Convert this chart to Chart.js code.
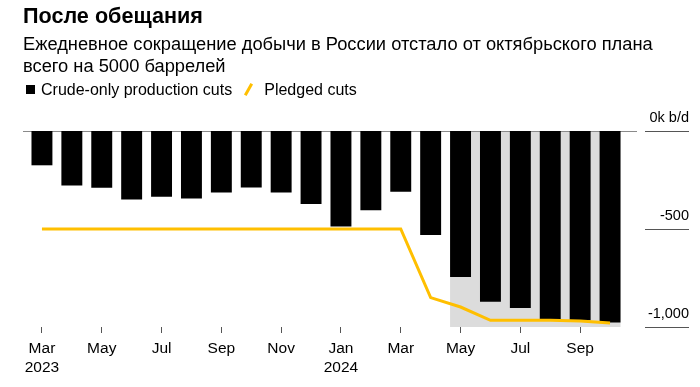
<!DOCTYPE html>
<html>
<head>
<meta charset="utf-8">
<script src="https://cdn.jsdelivr.net/npm/chart.js@4"></script>
<style>
  body { margin: 0; background: #fff; font-family: "Liberation Sans", Arial, sans-serif; color: #000; }
  #wrap { position: relative; width: 700px; height: 387px; overflow: hidden; }
  #chart { position: absolute; left: 0; top: 0; }
  .title { position: absolute; left: 23px; top: 3px; font-size: 21.6px; font-weight: bold; }
  .subtitle { position: absolute; left: 23px; top: 33px; font-size: 18.3px; line-height: 22px; }
  .legend { position: absolute; left: 26px; top: 80px; font-size: 16px; line-height: 18px; white-space: nowrap; }
  .legend span { display: inline-block; vertical-align: middle; }
  .sw-bar { width: 9px; height: 9px; background: #000; margin-right: 6px; }
  .sw-line { width: 3px; height: 13px; background: #ffbf00; transform: rotate(30deg); margin: 0 14px 0 15px; }
</style>
</head>
<body>
<div id="wrap">
  <canvas id="chart" width="700" height="387"></canvas>
  <div class="title">После обещания</div>
  <div class="subtitle">Ежедневное сокращение добычи в России отстало от октябрьского плана<br>всего на 5000 баррелей</div>
  <div class="legend"><span class="sw-bar"></span><span>Crude-only production cuts</span><span class="sw-line"></span><span>Pledged cuts</span></div>
</div>
<script>
const months = [
  "Mar 2023", "Apr 2023", "May 2023", "Jun 2023", "Jul 2023", "Aug 2023", "Sep 2023", "Oct 2023",
  "Nov 2023", "Dec 2023", "Jan 2024", "Feb 2024", "Mar 2024", "Apr 2024", "May 2024", "Jun 2024",
  "Jul 2024", "Aug 2024", "Sep 2024", "Oct 2024"
];
const tickLabels = [
  ["Mar", "2023"], "", "May", "", "Jul", "", "Sep", "", "Nov", "", ["Jan", "2024"], "",
  "Mar", "", "May", "", "Jul", "", "Sep", ""
];
const crudeCuts = [-175, -278, -290, -349, -336, -344, -314, -288, -314, -373, -487, -404, -310, -530, -745, -871, -903, -963, -966, -977];
const pledgedCuts = [-500, -500, -500, -500, -500, -500, -500, -500, -500, -500, -500, -500, -500, -850, -898, -966, -966, -966, -970, -980];
const shadedFrom = "May 2024";
const shadedTo = "Oct 2024";
const yTicks = [0, -500, -1000];
const yTickLabels = ["0k b/d", "-500", "-1,000"];

// grey band behind the last months, edges taken from the bars themselves
const shadePlugin = {
  id: "shade",
  beforeDatasetsDraw(chart) {
    const meta = chart.getDatasetMeta(1);
    const a = meta.data[months.indexOf(shadedFrom)];
    const b = meta.data[months.indexOf(shadedTo)];
    if (!a || !b) return;
    const y = chart.scales.y;
    const ctx = chart.ctx;
    const left = a.x - a.width / 2;
    const right = b.x + b.width / 2;
    ctx.save();
    ctx.fillStyle = "#dcdcdc";
    ctx.fillRect(left, y.getPixelForValue(0), right - left, y.getPixelForValue(-1000) - y.getPixelForValue(0));
    ctx.restore();
  },
};

const axisPlugin = {
  id: "rightAxis",
  beforeDatasetsDraw(chart) {
    const { ctx, chartArea } = chart;
    const y0 = Math.round(chart.scales.y.getPixelForValue(0)) + 0.5;
    ctx.save();
    ctx.strokeStyle = "#8a8a8a";
    ctx.lineWidth = 1;
    ctx.beginPath();
    ctx.moveTo(chartArea.left - 4, y0);
    ctx.lineTo(chartArea.right + 12, y0);
    ctx.stroke();
    ctx.restore();
  },
  afterDraw(chart) {
    const ctx = chart.ctx;
    const y = chart.scales.y;
    ctx.save();
    ctx.strokeStyle = "#555";
    ctx.lineWidth = 1;
    ctx.fillStyle = "#000";
    ctx.font = "14.5px 'Liberation Sans', Arial, sans-serif";
    ctx.textAlign = "right";
    ctx.textBaseline = "alphabetic";
    yTicks.forEach((v, i) => {
      const py = Math.round(y.getPixelForValue(v)) + 0.5;
      ctx.beginPath();
      ctx.moveTo(645, py);
      ctx.lineTo(689, py);
      ctx.stroke();
      ctx.fillText(yTickLabels[i], 689, py - 10);
    });
    ctx.restore();
  },
};

new Chart(document.getElementById("chart"), {
  data: {
    labels: months,
    datasets: [
      {
        type: "line",
        label: "Pledged cuts",
        data: pledgedCuts,
        borderColor: "#ffbf00",
        borderWidth: 3,
        pointRadius: 0,
        tension: 0,
        order: 0,
      },
      {
        type: "bar",
        label: "Crude-only production cuts",
        data: crudeCuts,
        backgroundColor: "#000",
        barPercentage: 0.7,
        categoryPercentage: 1,
        order: 1,
      },
    ],
  },
  plugins: [shadePlugin, axisPlugin],
  options: {
    responsive: false,
    animation: false,
    layout: { padding: { top: 131, left: 27, right: 75, bottom: 10 } },
    plugins: { legend: { display: false }, tooltip: { enabled: false } },
    scales: {
      x: {
        grid: {
          offset: false,
          drawOnChartArea: false,
          drawTicks: true,
          tickLength: 6,
          tickColor: (c) => (c.index % 2 === 0 ? "#555" : "rgba(0,0,0,0)"),
        },
        border: { display: false },
        afterFit: (scale) => { scale.height = 50; },
        ticks: {
          autoSkip: false,
          maxRotation: 0,
          padding: 6,
          color: "#000",
          font: { family: "'Liberation Sans', Arial, sans-serif", size: 15.5, lineHeight: 1.25 },
          callback: (v, i) => tickLabels[i],
        },
      },
      y: {
        display: false,
        min: -1000,
        max: 0,
      },
    },
  },
});
</script>
</body>
</html>
